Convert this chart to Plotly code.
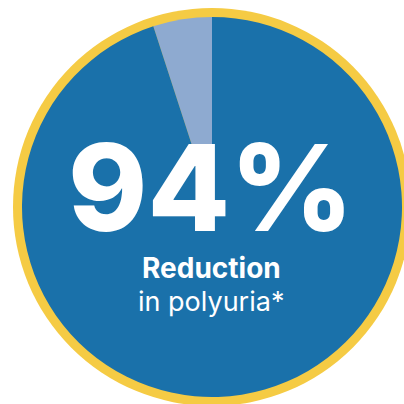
import plotly.graph_objects as go

labels = ["Remaining", "Reduction"]
values = [5, 95]
colors = ["#8eaad0", "#1a71aa"]
headline = "94%"
line1 = "Reduction"
line2 = "in polyuria*"

W = H = 404
cx, cy = 212, 207          # centre in pixels from top-left
r_in, r_out = 190, 199

def px(x):
    return x / W

def py(y):
    return (H - y) / H

fig = go.Figure()
fig.add_trace(go.Pie(
    labels=labels, values=values, sort=False, direction="clockwise",
    rotation=-360 * values[0] / sum(values), marker=dict(colors=colors, line=dict(width=0)),
    textinfo="none", hoverinfo="label+value", showlegend=False,
    domain=dict(x=[px(cx - r_in), px(cx + r_in)], y=[py(cy + r_in), py(cy - r_in)]),
))

fig.add_shape(type="circle", xref="paper", yref="paper", layer="below",
              x0=px(cx - r_out), x1=px(cx + r_out), y0=py(cy + r_out), y1=py(cy - r_out),
              fillcolor="#f5cb44", line=dict(width=0))

fig.add_annotation(text=headline, xref="paper", yref="paper",
                   x=px(211), y=py(187), xanchor="center", yanchor="middle", showarrow=False,
                   height=100, valign="middle",
                   font=dict(family="Inter", size=120, color="white", weight=800))
fig.add_annotation(text=line1, xref="paper", yref="paper",
                   x=px(211), y=py(268), xanchor="center", yanchor="middle", showarrow=False,
                   font=dict(family="Inter", size=28, color="white", weight=700))
fig.add_annotation(text=line2, xref="paper", yref="paper",
                   x=px(211), y=py(301), xanchor="center", yanchor="middle", showarrow=False,
                   font=dict(family="Inter", size=27, color="white", weight=400))

fig.update_layout(width=W, height=H, margin=dict(l=0, r=0, t=0, b=0),
                  paper_bgcolor="white", plot_bgcolor="white")
fig.write_html("out.html", config={"displayModeBar": False},
               post_script="document.body.style.margin='0';document.body.style.overflow='hidden';")
